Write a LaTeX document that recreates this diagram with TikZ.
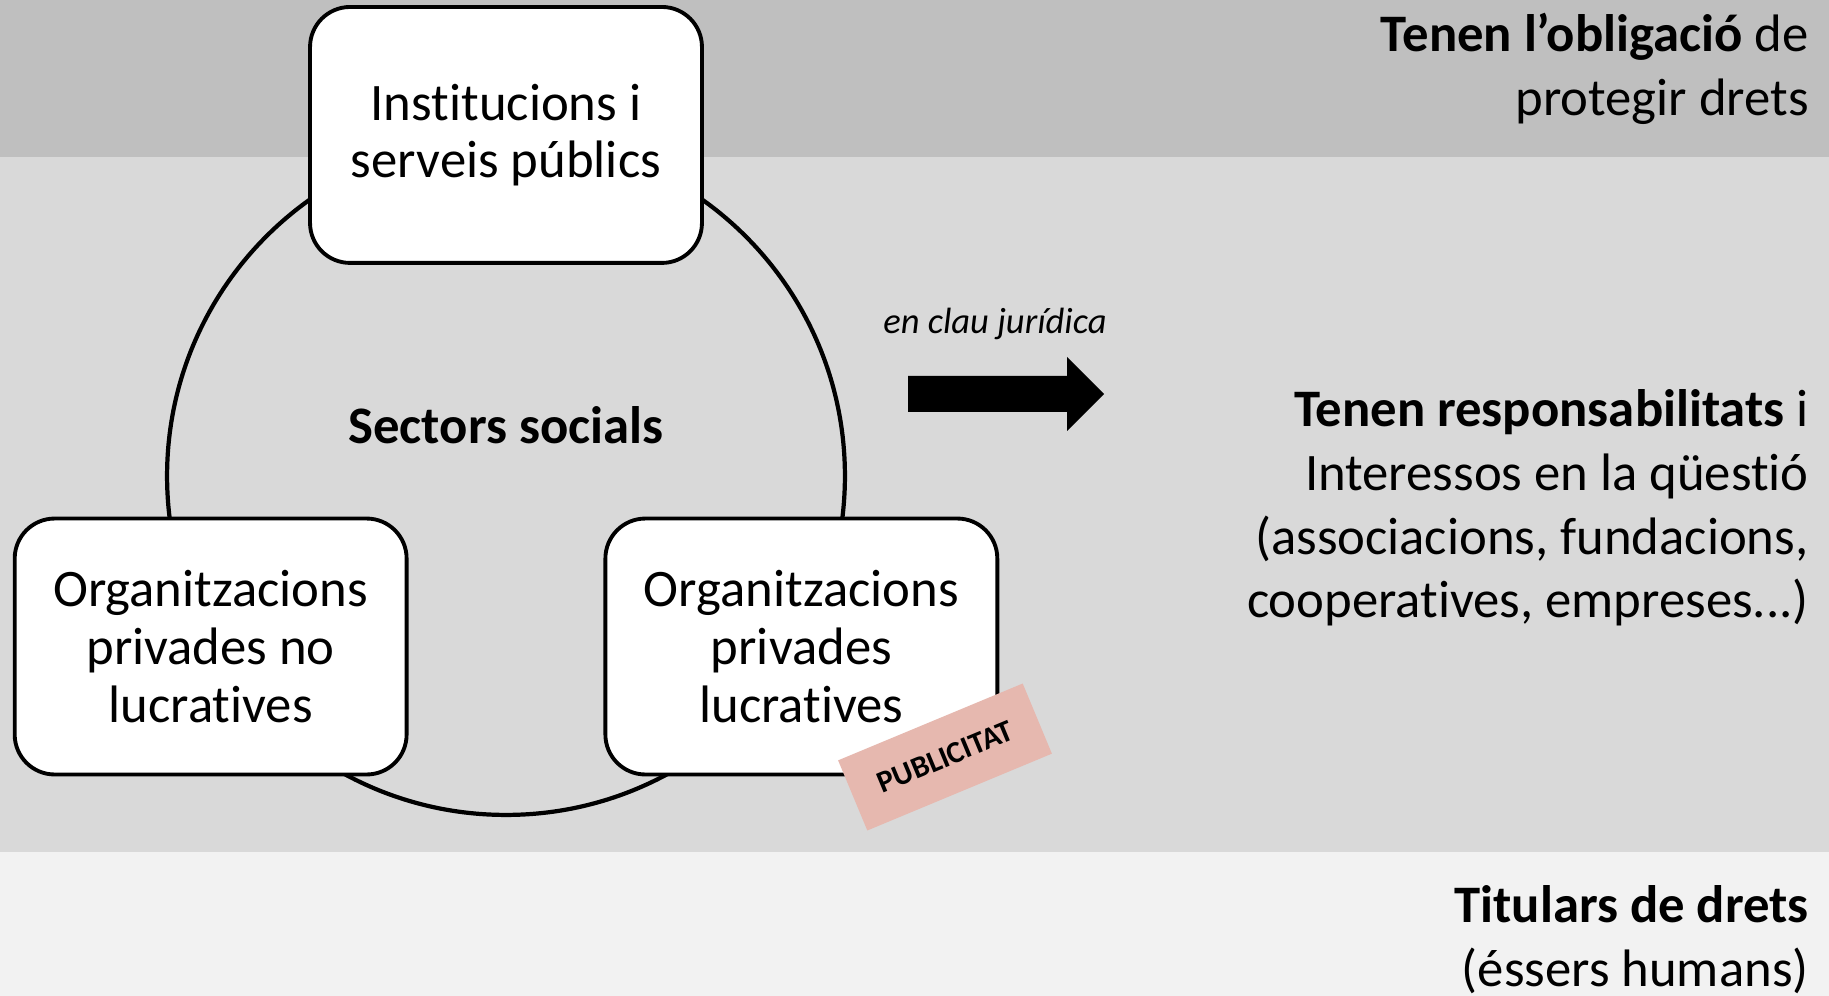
\documentclass[tikz,border=0pt]{standalone}
\usepackage{fontspec}
\setmainfont{Carlito}[Ligatures=NoCommon]
\usetikzlibrary{positioning}
\definecolor{bandtop}{HTML}{BFBFBF}
\definecolor{bandmid}{HTML}{D9D9D9}
\definecolor{bandlow}{HTML}{F2F2F2}
\definecolor{tagpink}{HTML}{E6B8AF}

\begin{document}
\begin{tikzpicture}[x=0.02cm, y=-0.02cm,
    sector/.style={draw, line width=2.2pt, fill=white, rounded corners=0.8cm,
        minimum width=7.84cm, minimum height=5.12cm, align=center,
        font=\fontsize{30}{32.8}\selectfont},
    side/.style={anchor=east, align=right, inner sep=0pt,
        font=\fontsize{30}{36.3}\selectfont}]
    \foreach \ya/\yb/\c in {0/157/bandtop, 157/852/bandmid, 852/996/bandlow}{
        \fill[\c] (0,\ya) rectangle (1829,\yb);
    }
    \useasboundingbox (0,0) rectangle (1829,996);

    \node[circle, draw, line width=2.4pt, minimum size=13.56cm, inner sep=0pt] (ring) at (506,476) {};
    \node[font=\fontsize{30}{32.3}\selectfont\bfseries] (sect) at ([yshift=1.02cm]ring.center) {Sectors socials};
    \node[sector] (inst) at (ring.north) {Institucions i\\serveis públics};
    \node[sector] (nolucr) at (ring.210) {Organitzacions\\privades no\\lucratives};
    \node[sector] (lucr) at (ring.330) {Organitzacions\\privades\\lucratives};
    \node[fill=tagpink, rotate=22.6, minimum width=4cm, minimum height=1.52cm,
        font=\fontsize{17.5}{20}\selectfont\bfseries] (tag) at (945,757) {PUBLICITAT};

    \node[font=\fontsize{20.8}{24}\selectfont\itshape] (clau) at (995,324) {en clau jurídica};
    \fill (908,376) -- (1067,376) -- (1067,357) -- (1104,394) -- (1067,431) -- (1067,412) -- (908,412) -- cycle;

    \node[side] (oblig) at (1809,69) {\textbf{Tenen l’obligació} de\\protegir drets};
    \node[side] (resp) at (1809,508) {\textbf{Tenen responsabilitats} i\\Interessos en la qüestió\\(associacions, fundacions,\\cooperatives, empreses...)};
    \node[side] (titul) at (1809,940) {\textbf{Titulars de drets}\\(éssers humans)};
\end{tikzpicture}
\end{document}
